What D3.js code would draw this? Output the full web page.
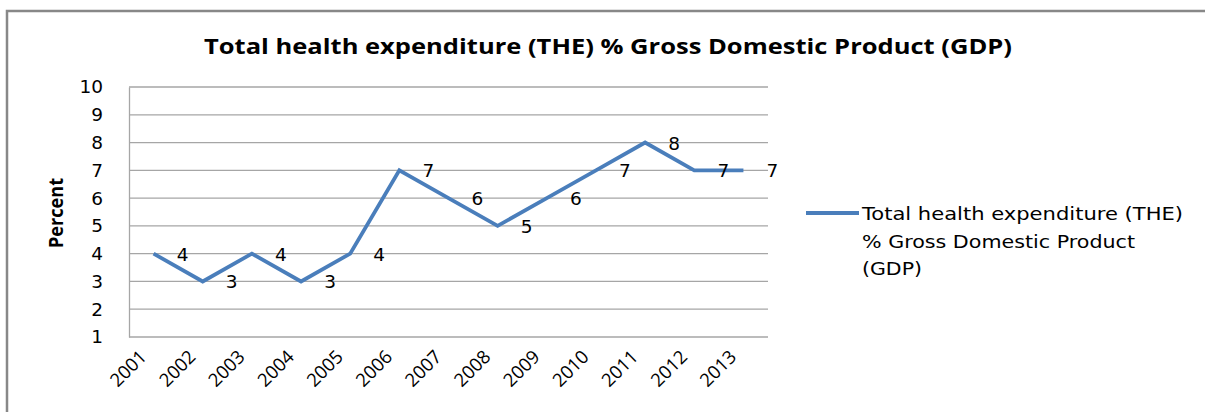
<!DOCTYPE html>
<html>
<head>
    <meta charset="utf-8">
    <title>THE % GDP</title>
    <style>
        body { margin: 0; background: #fff; }
    </style>
</head>
<body>
    <script src="https://cdnjs.cloudflare.com/ajax/libs/d3/7.9.0/d3.min.js"></script>
    <script>
        const years = ["2001","2002","2003","2004","2005","2006","2007","2008","2009","2010","2011","2012","2013"];
        const values = [4, 3, 4, 3, 4, 7, 6, 5, 6, 7, 8, 7, 7];
        const labels = ["4","3","4","3","4","7","6","5","6","7","8","7","7"];
        const yTicks = [1, 2, 3, 4, 5, 6, 7, 8, 9, 10];
        const title = "Total health expenditure (THE) % Gross Domestic Product (GDP)";
        const legendLines = ["Total health expenditure (THE)", "% Gross Domestic Product", "(GDP)"];
        const legendWidths = [321, 273, 60];

        const width = 1205;
        const height = 412;
        const margin = {top: 87, right: 437, bottom: 75, left: 129};

        const svg = d3.select("body")
            .append("svg")
            .attr("width", width)
            .attr("height", height);

        // outer chart frame
        svg.append("rect")
            .attr("x", 7).attr("y", 11)
            .attr("width", 1220).attr("height", 420)
            .attr("fill", "none")
            .attr("stroke", "#888")
            .attr("stroke-width", 2.5);

        const x = d3.scaleBand()
            .domain(years)
            .range([margin.left, width - margin.right]);

        const y = d3.scaleLinear()
            .domain([1, 10])
            .range([height - margin.bottom, margin.top]);

        // title
        svg.append("text")
            .attr("x", 608).attr("y", 54)
            .attr("text-anchor", "middle")
            .attr("font-family", "Open Sans")
            .attr("font-weight", "bold")
            .attr("font-size", 21)
            .attr("textLength", 808)
            .attr("lengthAdjust", "spacingAndGlyphs")
            .text(title);

        // gridlines
        svg.append("g")
            .selectAll("line")
            .data(yTicks)
            .join("line")
            .attr("x1", margin.left).attr("x2", width - margin.right)
            .attr("y1", d => y(d)).attr("y2", d => y(d))
            .attr("stroke", "#a6a6a6")
            .attr("stroke-width", 1.3);

        // y axis
        const yAxis = svg.append("g")
            .attr("transform", `translate(${margin.left},0)`)
            .call(d3.axisLeft(y).tickValues(yTicks).tickSize(0).tickPadding(26));
        yAxis.select(".domain").attr("stroke", "#a6a6a6").attr("stroke-width", 1.3);
        yAxis.selectAll("text")
            .attr("font-family", "DejaVu Sans")
            .attr("font-size", 18.5)
            .attr("fill", "#000");

        // x axis
        const xAxis = svg.append("g")
            .attr("transform", `translate(0,${height - margin.bottom})`)
            .call(d3.axisBottom(x).tickSize(0));
        xAxis.select(".domain").remove();
        xAxis.selectAll("text")
            .attr("font-family", "Open Sans")
            .attr("font-size", 18.5)
            .attr("fill", "#000")
            .attr("text-anchor", "end")
            .attr("dy", 0)
            .attr("transform", "translate(-8,19) rotate(-45)");

        // y axis title
        svg.append("text")
            .attr("transform", "translate(63,213) rotate(-90)")
            .attr("text-anchor", "middle")
            .attr("font-family", "Open Sans")
            .attr("font-weight", "bold")
            .attr("font-size", 19)
            .attr("textLength", 70)
            .attr("lengthAdjust", "spacingAndGlyphs")
            .text("Percent");

        const cx = d => x(d) + x.bandwidth() / 2;

        // the series line
        const line = d3.line()
            .x((d, i) => cx(years[i]))
            .y(d => y(d));

        svg.append("path")
            .datum(values)
            .attr("d", line)
            .attr("fill", "none")
            .attr("stroke", "#4a7ebb")
            .attr("stroke-width", 3.8)
            .attr("stroke-linejoin", "miter");

        // data labels
        svg.append("g")
            .selectAll("text")
            .data(values)
            .join("text")
            .attr("x", (d, i) => cx(years[i]) + 29)
            .attr("y", d => y(d) + 7)
            .attr("text-anchor", "middle")
            .attr("font-family", "DejaVu Sans")
            .attr("font-size", 18.5)
            .attr("fill", "#000")
            .text((d, i) => labels[i]);

        // legend
        const lg = svg.append("g").attr("transform", "translate(806,213)");
        lg.append("line")
            .attr("x1", 0).attr("x2", 53)
            .attr("y1", 0).attr("y2", 0)
            .attr("stroke", "#4a7ebb")
            .attr("stroke-width", 3.8);
        lg.selectAll("text")
            .data(legendLines)
            .join("text")
            .attr("x", 56)
            .attr("y", (d, i) => i * 27.5 + 7)
            .attr("font-family", "DejaVu Sans")
            .attr("font-size", 18.5)
            .attr("textLength", (d, i) => legendWidths[i])
            .attr("lengthAdjust", "spacingAndGlyphs")
            .attr("fill", "#000")
            .text(d => d);
    </script>
</body>
</html>
